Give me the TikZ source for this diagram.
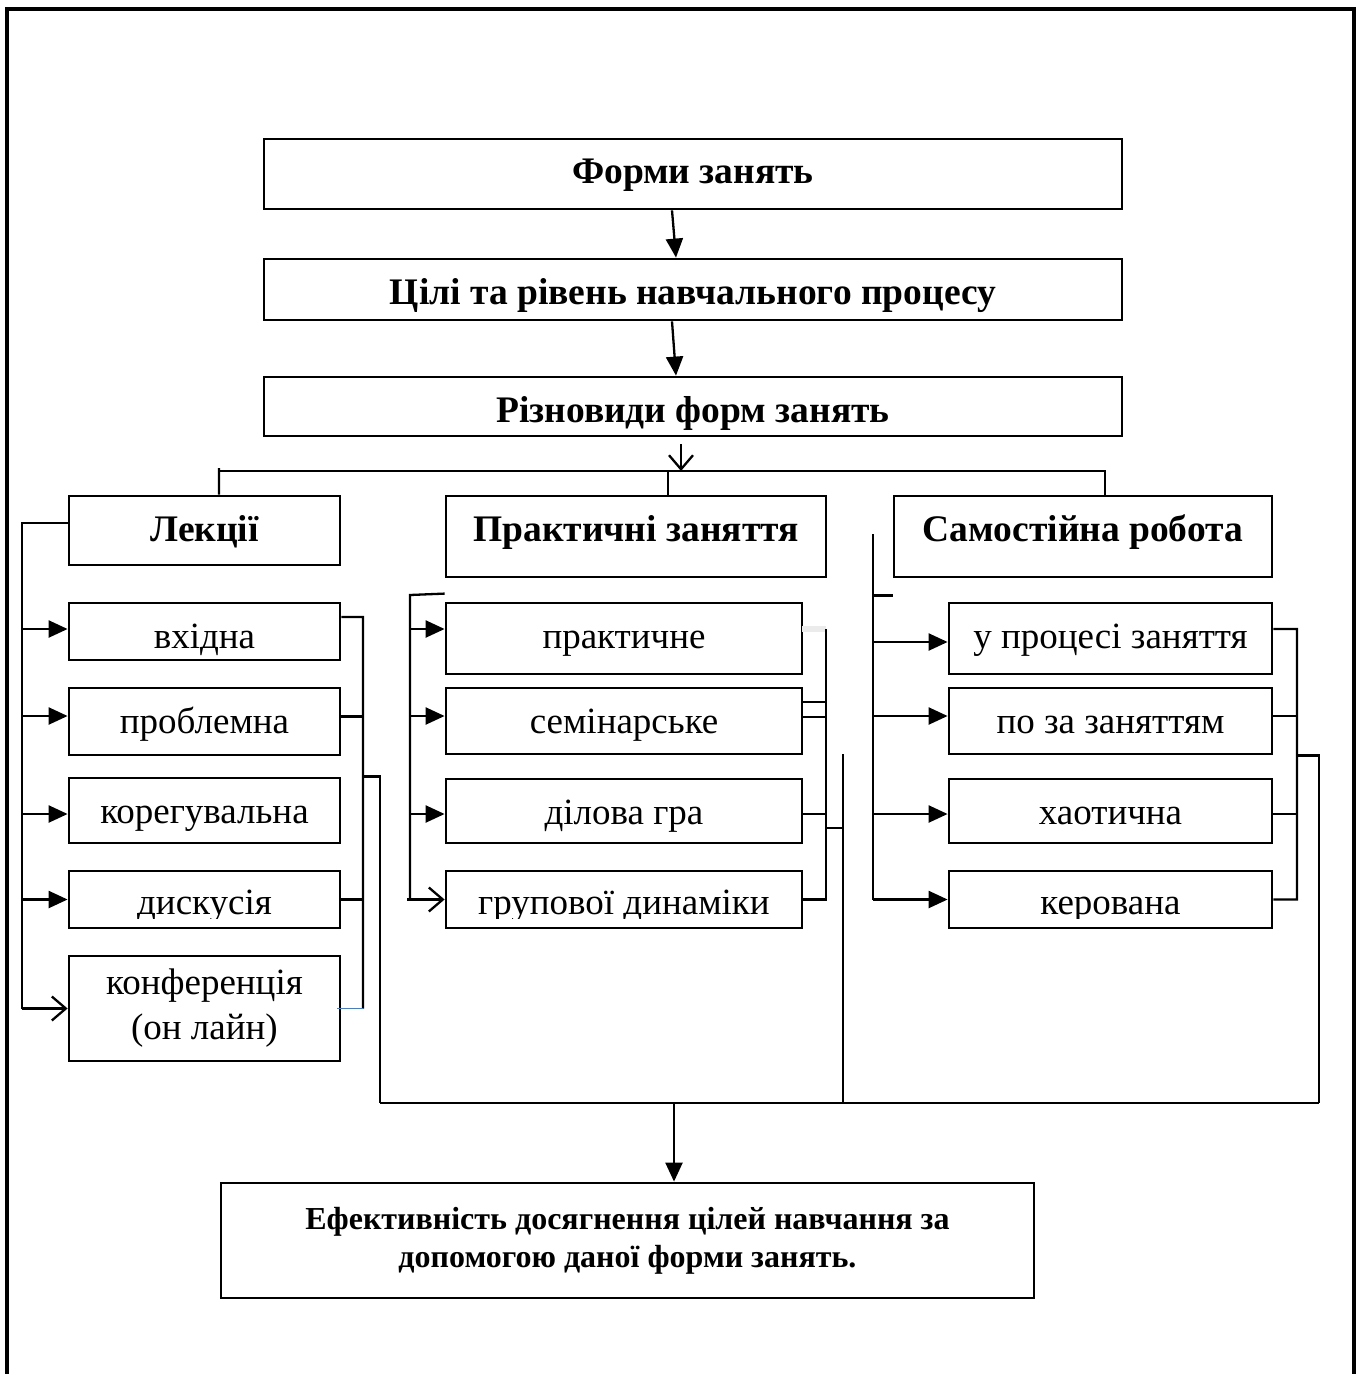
\documentclass[tikz,border=0pt]{standalone}
\usepackage{fontspec}
\setmainfont{Liberation Serif}
\usetikzlibrary{arrows.meta}
\definecolor{lineblue}{HTML}{4A7EBB}

\begin{document}
\begin{tikzpicture}[x=1bp,y=-1bp,line width=2.3bp,
  cell/.style={draw,line width=2.8bp,inner sep=0pt},
  head/.style={cell,text height=45bp,text depth=#1,font=\bfseries\fontsize{37.5bp}{42bp}\selectfont},
  item/.style={cell,text height=45bp,text depth=#1,font=\fontsize{37bp}{45bp}\selectfont},
  arr/.style={-{Triangle[length=19bp,width=17bp]}},
  oarr/.style={-{Straight Barb[length=14bp,width=24bp]}}]
\useasboundingbox (0,0) rectangle (1360,1374);
\draw[line width=3.2bp] (7,1374) -- (7,9) -- (1354,9) -- (1354,1374);
\coordinate (bl) at (219,471); \coordinate (br) at (1105,471);
\coordinate (bb1) at (380,1103); \coordinate (bb2) at (1319,1103);
\coordinate (ll) at (22,523); \coordinate (lr) at (363,617);
\coordinate (pl) at (410,595); \coordinate (pr) at (826,629); \coordinate (pm) at (843,754);
\coordinate (sl) at (873,534); \coordinate (sr) at (1297,629);
% top chain
\node[head=25bp,minimum width=858bp] (f1) at (693,174) {Форми занять};
\node[head=16bp,minimum width=858bp] (f2) at (693,289.5) {Цілі та рівень навчального процесу};
\node[head=14bp,minimum width=858bp] (f3) at (693,406.5) {Різновиди форм занять};
\draw[arr] ([xshift=-21bp]f1.south) -- ([xshift=-17bp]f2.north);
\draw[arr] ([xshift=-21bp]f2.south) -- ([xshift=-17bp]f3.north);
\draw[oarr] ([xshift=-12bp,yshift=-7bp]f3.south) -- ([xshift=-12bp]f3.south |- bl);
% three kinds
\node[head=24bp,minimum width=271bp] (lek) at (204.5,530.5) {Лекції};
\node[head=36bp,minimum width=380bp] (prak) at (636,536.5) {Практичні заняття};
\node[head=36bp,minimum width=378bp] (sam) at (1083,536.5) {Самостійна робота};
\draw ([xshift=14.5bp]lek.north) -- ([yshift=3bp]bl); \draw (bl) -- (br) -- (br |- sam.north);
\draw ([xshift=32bp]prak.north) -- ([xshift=32bp]prak.north |- bl);
% lectures
\foreach \n/\y/\d/\t in {l1/631.5/12bp/вхідна,l2/721.5/22bp/проблемна,l3/810.5/20bp/корегувальна,l4/899.5/12bp/{}}
  \node[item=\d,minimum width=271bp] (\n) at (204.5,\y) {\t};
\node[cell,minimum width=271bp,minimum height=105bp,align=center,font=\fontsize{37bp}{45bp}\selectfont] (l5) at (204.5,1008.5) {конференція\\(он лайн)};
\draw ([yshift=7.5bp]lek.west) -| (l5.west -| ll);
\foreach \n/\s in {l1/2.5,l2/5.5,l3/-3.5,l4/0} \draw[arr] ([yshift=\s bp]\n.west -| ll) -- ([yshift=\s bp]\n.west);
\draw[oarr] (l5.west -| ll) -- (l5.west);
\draw ([yshift=14.5bp]l1.east) -- (lr) -- (l5.east -| lr);
\draw ([yshift=5bp]l2.east) -- ([yshift=5bp]l2.east -| lr); \draw (l4.east) -- (l4.east -| lr);
\draw[lineblue,line width=1.6bp] ([xshift=-4bp]l5.east) -- (l5.east -| lr);
\draw (l3.north -| lr) -| (bb1);
% practical
\foreach \n/\y/\d/\t in {p1/638.5/26bp/практичне,p2/721/21bp/семінарське,p3/811/19bp/ділова гра,p4/899.5/12bp/{}}
  \node[item=\d,minimum width=356bp] (\n) at (624,\y) {\t};
\draw ([yshift=8bp]p1.north west) -- (pl) -- (p4.west -| pl);
\foreach \n/\s in {p1/9.5,p2/5,p3/-3} \draw[arr] ([yshift=\s bp]\n.west -| pl) -- ([yshift=\s bp]\n.west);
\draw[oarr] ([xshift=-3bp]p4.west -| pl) -- (p4.west);
\fill[black!8] (802,626) rectangle (826,632);
\draw (pr) -- (p4.east -| pr) -- (p4.east);
\draw ([yshift=19bp]p2.east) -- ([yshift=19bp]p2.east -| pr); \draw ([yshift=4bp]p2.east) -- ([yshift=4bp]p2.east -| pr);
\draw ([yshift=-3bp]p3.east) -- ([yshift=-3bp]p3.east -| pr);
\draw (pm) -- (pm |- bb1); \draw ([yshift=-17bp]p3.east -| pr) -- ([yshift=-17bp]p3.east -| pm);
% self work
\foreach \n/\y/\d/\t in {s1/638.5/26bp/у процесі заняття,s2/721/21bp/по за заняттям,s3/811/19bp/хаотична,s4/899.5/12bp/{}}
  \node[item=\d,minimum width=323bp] (\n) at (1110.5,\y) {\t};
\draw (sl) -- (s4.west -| sl); \draw ([yshift=-17bp]sam.south west) -- ([yshift=-17bp]sam.south west -| sl);
\foreach \n/\s in {s1/-3.5,s2/5,s3/-3,s4/0} \draw[arr] ([yshift=\s bp]\n.west -| sl) -- ([yshift=\s bp]\n.west);
\draw ([yshift=9.5bp]s1.east) -- (sr) -- (s4.east -| sr) -- (s4.east);
\draw ([yshift=5bp]s2.east) -- ([yshift=5bp]s2.east -| sr); \draw ([yshift=-3bp]s3.east) -- ([yshift=-3bp]s3.east -| sr);
\draw (s2.south -| sr) -| (bb2);
% cut-off texts
\begin{scope}
\clip (l4.north west) rectangle ([yshift=11bp]l4.south east) (p4.north west) rectangle ([yshift=11bp]p4.south east)
  (s4.north west) rectangle ([yshift=11bp]s4.south east);
\foreach \n/\t in {l4/дискусія,p4/групової динаміки,s4/керована}
  \node[font=\fontsize{37bp}{45bp}\selectfont,anchor=base] at ([yshift=-45bp]\n.north) {\t};
\end{scope}
% result
\draw (bb1) -- (bb2);
\node[cell,minimum width=813bp,minimum height=115bp,align=center,font=\bfseries\fontsize{32bp}{38bp}\selectfont] (res) at (627.5,1240.5)
  {Ефективність досягнення цілей навчання за\\допомогою даної форми занять.};
\draw[arr] ([xshift=46.5bp]res.north |- bb1) -- ([xshift=46.5bp]res.north);
\end{tikzpicture}
\end{document}
